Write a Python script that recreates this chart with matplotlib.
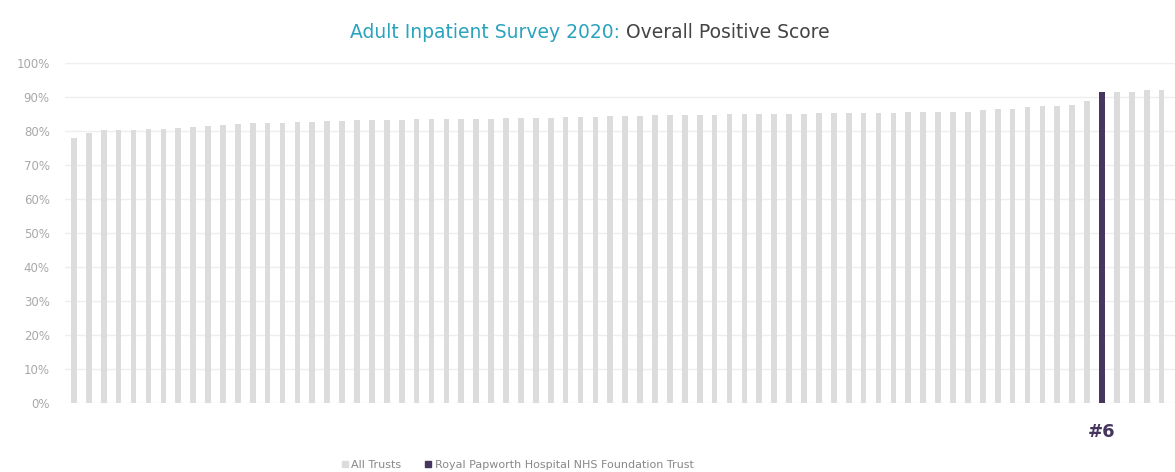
import matplotlib.pyplot as plt
from matplotlib.lines import Line2D

# Overall positive score of every trust, sorted
scores = [78.0, 79.4, 80.2, 80.4, 80.4, 80.5, 80.6, 80.8, 81.2, 81.5,
          81.8, 82.2, 82.3, 82.4, 82.5, 82.6, 82.7, 82.8, 83.0, 83.1,
          83.2, 83.3, 83.3, 83.4, 83.4, 83.5, 83.5, 83.6, 83.6, 83.7,
          83.8, 83.8, 83.9, 84.0, 84.1, 84.2, 84.3, 84.4, 84.5, 84.6,
          84.7, 84.7, 84.8, 84.8, 84.9, 84.9, 85.0, 85.0, 85.1, 85.1,
          85.2, 85.2, 85.3, 85.3, 85.4, 85.4, 85.5, 85.5, 85.6, 85.6,
          85.7, 86.3, 86.4, 86.5, 87.2, 87.3, 87.5, 87.6, 88.9, 91.6,
          91.4, 91.5, 92.0, 92.1]
highlight = 69          # Royal Papworth
rank_label = "#6"
yticks = [0, 10, 20, 30, 40, 50, 60, 70, 80, 90, 100]

grey = "#dcdcdc"
purple = "#45355f"
teal = "#2aa3bd"

fig = plt.figure(figsize=(11.75, 4.72), dpi=100)
ax = fig.add_axes([65 / 1175, 1 - 403 / 472, 1110 / 1175, 340 / 472])

x = list(range(len(scores)))
colors = [purple if i == highlight else grey for i in x]
ax.bar(x, scores, width=0.38, color=colors, zorder=3)

ax.set_xlim(-0.6, 73.9)
ax.set_ylim(0, 100)
ax.set_yticks(yticks)
ax.set_yticklabels([f"{t}%" for t in yticks])
ax.set_xticks([])
ax.grid(axis="y", color="#eeeeee", linewidth=1, zorder=0)
for s in ax.spines.values():
    s.set_visible(False)
ax.tick_params(axis="y", length=0, pad=11, labelsize=8.5, labelcolor="#a8a8a8")

# rank label under the highlighted bar
ax.text(highlight, -6, rank_label, ha="center", va="top", fontsize=13,
        fontweight="bold", color=purple)

# two-colour title
t1 = fig.text(0.5, 1 - 32 / 472, "Adult Inpatient Survey 2020: ", fontsize=13.5,
              color=teal, ha="left", va="center")
t2 = fig.text(0.5, 1 - 32 / 472, "Overall Positive Score", fontsize=13.5,
              color="#444444", ha="left", va="center")
fig.canvas.draw()
r = fig.canvas.get_renderer()
w1 = t1.get_window_extent(r).width
w2 = t2.get_window_extent(r).width
W = fig.bbox.width
start = 590 - (w1 + w2) / 2
t1.set_x(start / W)
t2.set_x((start + w1) / W)

handles = [Line2D([], [], marker="s", color=grey, linestyle="", markersize=4),
           Line2D([], [], marker="s", color=purple, linestyle="", markersize=4)]
fig.legend(handles, ["All Trusts", "Royal Papworth Hospital NHS Foundation Trust"],
           loc="center", bbox_to_anchor=(0.44, 1 - 465 / 472), ncol=2, frameon=False,
           fontsize=8, labelcolor="#888888", handletextpad=0.2, columnspacing=2.0,
           handlelength=0.8)

fig.savefig("out.png", dpi=100)
